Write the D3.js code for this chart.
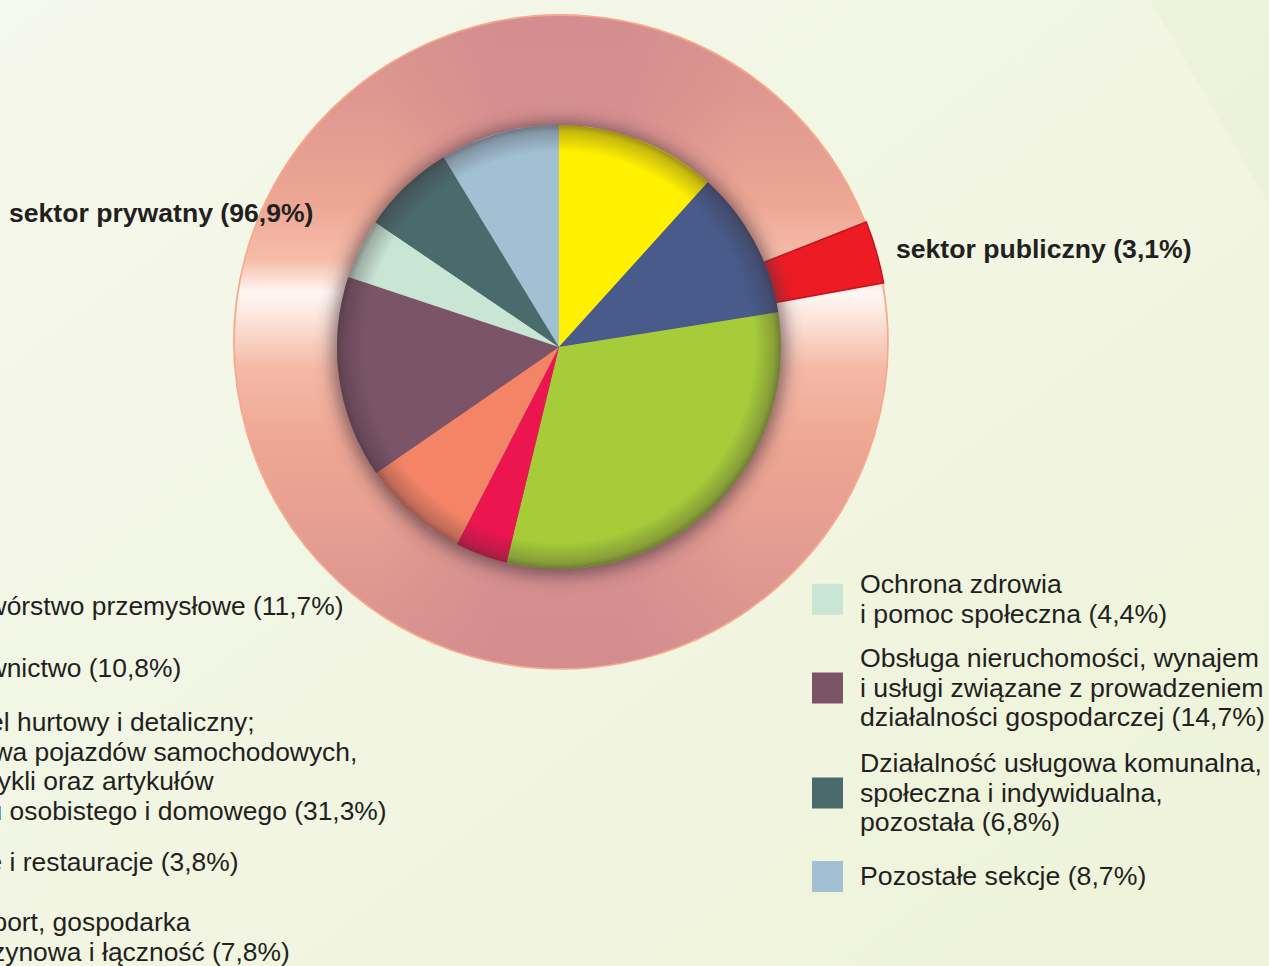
<!DOCTYPE html>
<html>
<head>
<meta charset="utf-8">
<script src="https://cdn.jsdelivr.net/npm/d3@7/dist/d3.min.js"></script>
<style>
html,body{margin:0;padding:0;overflow:hidden;background:#f3f7e5;}
svg{display:block;font-family:"Liberation Sans",Arial,Helvetica,sans-serif;}
</style>
</head>
<body>
<svg id="chart" width="1269" height="966"></svg>
<script>
// ---- data ----
const sectorNames = [
  ["Przetwórstwo przemysłowe"],
  ["Budownictwo"],
  ["Handel hurtowy i detaliczny;", "naprawa pojazdów samochodowych,", "motocykli oraz artykułów", "użytku osobistego i domowego"],
  ["Hotele i restauracje"],
  ["Transport, gospodarka", "magazynowa i łączność"],
  ["Obsługa nieruchomości, wynajem", "i usługi związane z prowadzeniem", "działalności gospodarczej"],
  ["Ochrona zdrowia", "i pomoc społeczna"],
  ["Działalność usługowa komunalna,", "społeczna i indywidualna,", "pozostała"],
  ["Pozostałe sekcje"]
];
const sectorValues = [11.7, 10.8, 31.3, 3.8, 7.8, 14.7, 4.4, 6.8, 8.7];
const sectorColors = ["#fff100", "#485b8a", "#a6cd39", "#ec1550", "#f48466", "#7b5468", "#c9e6d5", "#4a6b6c", "#a1c1d3"];
const ownershipNames = ["sektor publiczny", "sektor prywatny"];
const ownershipValues = [3.1, 96.9];

const fmt = v => String(v).replace(".", ",");

// ---- layout ----
const svg = d3.select("#chart");
const W = 1269, H = 966;
const pieC = [559, 347], pieR = 222;
const ringC = [561, 342], ringOuter = 326, ringInner = 200;

const defs = svg.append("defs");

// background
const bg = defs.append("linearGradient").attr("id","bg").attr("x1","0").attr("y1","0").attr("x2","1").attr("y2","1");
bg.append("stop").attr("offset","0").attr("stop-color","#f5f8ec");
bg.append("stop").attr("offset","1").attr("stop-color","#eef3d9");
svg.append("rect").attr("width",W).attr("height",H).attr("fill","url(#bg)");
svg.append("polygon").attr("points","1150,0 1269,0 1269,205").attr("fill","#e6eecb").attr("opacity",0.3);

// ring gradients (coordinates relative to ring centre)
const rg = defs.append("linearGradient").attr("id","ringV").attr("gradientUnits","userSpaceOnUse")
  .attr("x1",0).attr("y1",-328).attr("x2",0).attr("y2",328);
[[0,"#d89390"],[0.13,"#de9890"],[0.285,"#eca693"],[0.375,"#f6bda9"],[0.425,"#fff7f3"],
 [0.47,"#fbe1d7"],[0.54,"#f4b9a6"],[0.66,"#eea693"],[0.83,"#e19b91"],[1,"#d69090"]]
 .forEach(s => rg.append("stop").attr("offset",s[0]).attr("stop-color",s[1]));
const rh = defs.append("linearGradient").attr("id","ringH").attr("gradientUnits","userSpaceOnUse")
  .attr("x1",-324).attr("y1",0).attr("x2",325).attr("y2",0);
[[0,0],[0.22,0],[0.4,0.75],[0.6,0.75],[0.78,0],[1,0]]
 .forEach(s => rh.append("stop").attr("offset",s[0]).attr("stop-color","#d38c8e").attr("stop-opacity",s[1]));

// pie shadow/rim
const blur = defs.append("filter").attr("id","halo").attr("x","-30%").attr("y","-30%").attr("width","160%").attr("height","160%");
blur.append("feGaussianBlur").attr("stdDeviation",9);
const rim = defs.append("radialGradient").attr("id","rim").attr("gradientUnits","userSpaceOnUse")
  .attr("cx",pieC[0]).attr("cy",pieC[1]).attr("r",pieR);
rim.append("stop").attr("offset","0.88").attr("stop-color","#3a2a33").attr("stop-opacity",0);
rim.append("stop").attr("offset","0.97").attr("stop-color","#3a2a33").attr("stop-opacity",0.28);
rim.append("stop").attr("offset","1").attr("stop-color","#3a2a33").attr("stop-opacity",0.5);

// ---- outer ring (ownership) ----
const deg = Math.PI/180;
const ringPie = d3.pie().sort(null).value(d => d).startAngle(68.5*deg).endAngle(68.5*deg + 2*Math.PI);
const ringArcs = ringPie(ownershipValues);
const ringArc = d3.arc().innerRadius(ringInner).outerRadius(ringOuter);
const ringG = svg.append("g").attr("transform",`translate(${ringC[0]},${ringC[1]})`);

// private part
const priv = ringArcs[1];
ringG.append("path").attr("d", ringArc(priv))
  .attr("fill","#eba593").attr("stroke","#f8a98b").attr("stroke-width",3.5);
ringG.append("path").attr("d", ringArc(priv)).attr("fill","url(#ringV)");
ringG.append("path").attr("d", ringArc(priv)).attr("fill","url(#ringH)");

// public part (slightly pulled out)
const pub = ringArcs[0];
const mid = (pub.startAngle + pub.endAngle)/2;
const off = 3;
svg.append("path").attr("d", d3.arc().innerRadius(ringInner).outerRadius(ringOuter-1)(pub))
  .attr("transform",`translate(${ringC[0]+off*Math.sin(mid)},${ringC[1]-off*Math.cos(mid)})`)
  .attr("fill","#ed1c24").attr("stroke","#c3151d").attr("stroke-width",1.5);

// ---- inner pie (sectors) ----
svg.append("circle").attr("cx",pieC[0]).attr("cy",pieC[1]+2).attr("r",pieR+4)
  .attr("fill","#4a3440").attr("opacity",0.7).attr("filter","url(#halo)");
const pie = d3.pie().sort(null).value(d => d);
const arc = d3.arc().innerRadius(0).outerRadius(pieR);
const pieG = svg.append("g").attr("transform",`translate(${pieC[0]},${pieC[1]})`);
pieG.selectAll("path.slice").data(pie(sectorValues)).join("path").attr("class","slice")
  .attr("d", arc).attr("fill",(d,i) => sectorColors[i]);
svg.append("circle").attr("cx",pieC[0]).attr("cy",pieC[1]).attr("r",pieR).attr("fill","url(#rim)");

// ---- labels ----
const txtColor = "#231f20";
svg.append("text").attr("x",9).attr("y",222).attr("font-size",26.6).attr("font-weight","bold")
  .attr("fill",txtColor).text(`${ownershipNames[1]} (${fmt(ownershipValues[1])}%)`);
svg.append("text").attr("x",896).attr("y",258).attr("font-size",26.6).attr("font-weight","bold")
  .attr("fill",txtColor).text(`${ownershipNames[0]} (${fmt(ownershipValues[0])}%)`);

// ---- legends ----
const lineH = 29.5;
const legendLeft = [
  {i:0, y:615}, {i:1, y:677}, {i:2, y:731}, {i:3, y:871}, {i:4, y:931}
];
const legendRight = [
  {i:6, y:593}, {i:5, y:667}, {i:7, y:772}, {i:8, y:885}
];
function legend(items, tx, sx, fs) {
  items.forEach(it => {
    const lines = sectorNames[it.i].slice();
    lines[lines.length-1] += ` (${fmt(sectorValues[it.i])}%)`;
    const n = lines.length;
    const midY = it.y + (n-1)*lineH/2 - 8.5;
    svg.append("rect").attr("x",sx).attr("y",midY-15.5).attr("width",31).attr("height",31)
      .attr("fill",sectorColors[it.i]);
    const t = svg.append("text").attr("font-size",fs).attr("fill",txtColor);
    lines.forEach((l,k) => t.append("tspan").attr("x",tx).attr("y",it.y + k*lineH).text(l));
  });
}
legend(legendLeft, -74, -122, 26.4);
legend(legendRight, 860, 812, 26.7);
</script>
</body>
</html>
